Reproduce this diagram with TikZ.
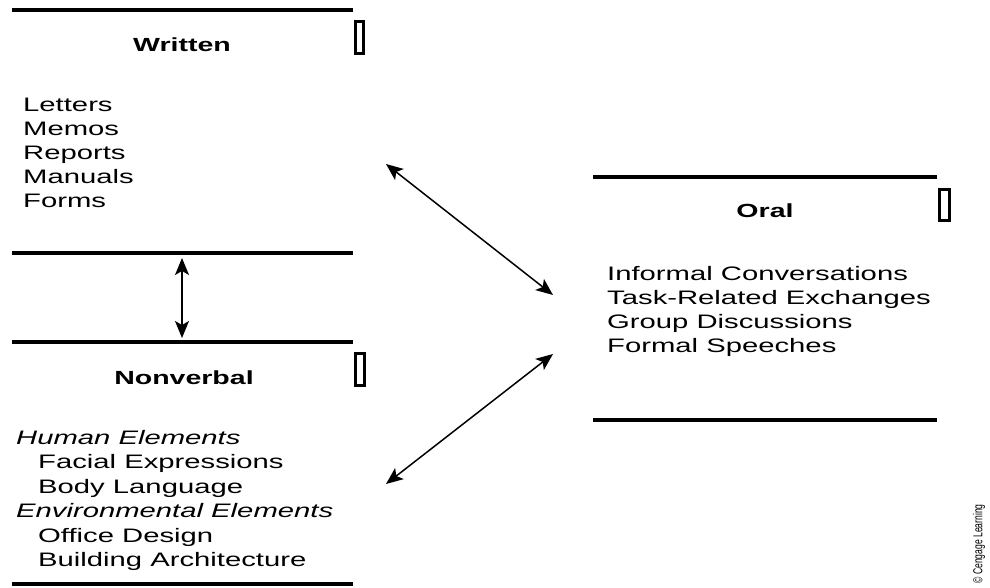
\documentclass[tikz,border=0pt]{standalone}
\usepackage{fontspec}
\setmainfont[FakeStretch=1.5]{Liberation Sans}
\newfontfamily\creditfont[FakeStretch=0.66]{Liberation Sans}
\usetikzlibrary{arrows.meta}

\begin{document}
\begin{tikzpicture}[x=1pt,y=-1pt,
    rule/.style={line width=4.5pt},
    tab/.style={line width=3pt},
    head/.style={font=\fontsize{19}{24}\selectfont\bfseries,inner sep=0pt,anchor=base},
    items/.style={font=\fontsize{19.5}{24}\selectfont,align=left,inner sep=0pt,anchor=north west},
    link/.style={line width=1.5pt,{Stealth[length=17pt,width=14pt,inset=4pt]}-{Stealth[length=17pt,width=14pt,inset=4pt]}}]
\useasboundingbox (0,0) rectangle (990,588);

% written
\draw[rule] (12,10)--(353,10) (12,253)--(353,253);
\draw[tab] (355.5,21.5) rectangle (363.5,53.5);
\node[head] (written) at (182,52) {Written};
\node[items] (wlist) at (23,98) {Letters\\Memos\\Reports\\Manuals\\Forms};

% nonverbal
\draw[rule] (12,342)--(353,342) (12,584)--(353,584);
\draw[tab] (355.5,353.5) rectangle (364.5,385.5);
\node[head] (nonverbal) at (184,384) {Nonverbal};
\node[items,font=\fontsize{19.5}{24.5}\selectfont] (nlist) at (16,430)
  {\textit{Human Elements}\\\hspace*{22pt}Facial Expressions\\\hspace*{22pt}Body Language\\
   \textit{Environmental Elements}\\\hspace*{22pt}Office Design\\\hspace*{22pt}Building Architecture};

% oral
\draw[rule] (593,177)--(937,177) (593,420)--(937,420);
\draw[tab] (939.5,189.5) rectangle (949.5,220.5);
\node[head] (oral) at (765,218) {Oral};
\node[items] (olist) at (607,266)
  {Informal Conversations\\Task-Related Exchanges\\Group Discussions\\Formal Speeches};

% links
\coordinate (w-up) at (182,258);
\coordinate (n-down) at (182,338);
\coordinate (w-out) at (386,164);
\coordinate (o-in) at (553,295);
\coordinate (o-out) at (553,354);
\coordinate (n-out) at (386,484);
\draw[link] (w-up)--(n-down);
\draw[link] (w-out)--(o-in);
\draw[link] (o-out)--(n-out);

\node[font=\creditfont\fontsize{13}{13}\selectfont,rotate=90,inner sep=0pt] (credit) at (979,544) {© Cengage Learning};
\end{tikzpicture}
\end{document}
